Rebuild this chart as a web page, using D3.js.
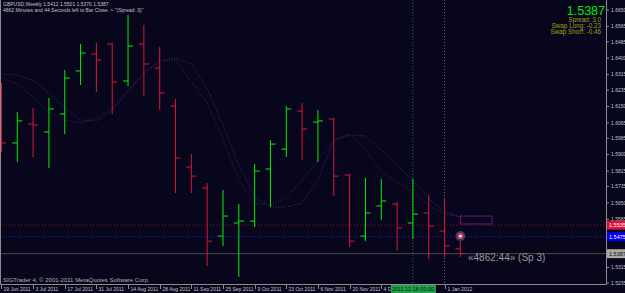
<!DOCTYPE html>
<html><head><meta charset="utf-8">
<script src="https://cdn.jsdelivr.net/npm/d3@7"></script>
<style>
html,body{margin:0;padding:0;background:#07061c;overflow:hidden}
svg{display:block}
text{font-family:'Liberation Sans',Arial,sans-serif}
</style></head><body>
<script>
// GBPUSD weekly bars, one per week
let weeks = ['2011-06-19','2011-06-26','2011-07-03','2011-07-10','2011-07-17','2011-07-24','2011-07-31','2011-08-07',
  '2011-08-14','2011-08-21','2011-08-28','2011-09-04','2011-09-11','2011-09-18','2011-09-25','2011-10-02',
  '2011-10-09','2011-10-16','2011-10-23','2011-10-30','2011-11-06','2011-11-13','2011-11-20','2011-11-27',
  '2011-12-04','2011-12-11','2011-12-18','2011-12-25','2012-01-01','2012-01-08']
let opens  = [1.6183,1.5961,1.6059,1.6018,1.6111,1.6334,1.6422,1.6474,1.6282,1.6474,1.6349,1.6152,1.5836,1.5727,1.5478,
  1.5546,1.5556,1.5826,1.5929,1.6126,1.6069,1.6085,1.5795,1.5478,1.5634,1.5644,1.5546,1.5598,1.5504,1.5412]
let highs  = [1.6272,1.6121,1.6142,1.6194,1.6339,1.6474,1.6479,1.6479,1.6624,1.6572,1.6458,1.6189,1.5904,1.5753,1.5717,
  1.5644,1.5852,1.5976,1.6152,1.6168,1.6132,1.6090,1.5800,1.5779,1.5774,1.5655,1.5774,1.5691,1.5670,1.5501]
let lows   = [1.5914,1.5862,1.5888,1.5831,1.6007,1.6261,1.6225,1.6111,1.6256,1.6204,1.6132,1.5701,1.5701,1.5323,1.5427,
  1.5266,1.5525,1.5629,1.5888,1.5872,1.5862,1.5686,1.5421,1.5452,1.5561,1.5401,1.5463,1.5359,1.5370,1.5370]
let closes = [1.5961,1.6075,1.6054,1.6137,1.6297,1.6427,1.6391,1.6277,1.6463,1.6370,1.6220,1.5883,1.5789,1.5452,1.5582,
  1.5556,1.5815,1.5955,1.6137,1.6033,1.6075,1.5789,1.5452,1.5598,1.5660,1.5520,1.5592,1.5530,1.5427,1.5387]

// two moving averages (dotted)
let maBlue = [1.6318,1.6313,1.6287,1.6220,1.6142,1.6080,1.6075,1.6132,1.6225,1.6318,1.6386,1.6401,1.6370,1.6246,1.6054,
  1.5846,1.5681,1.5629,1.5629,1.5649,1.5769,1.5976,1.6002,1.5997,1.5924,1.5846,1.5769,1.5675,1.5603,1.5577]
let maMagenta = [1.6297,1.6266,1.6199,1.6121,1.6080,1.6064,1.6090,1.6142,1.6235,1.6329,1.6386,1.6391,1.6277,1.6168,1.5976,
  1.5769,1.5649,1.5639,1.5675,1.5769,1.5872,1.5976,1.6007,1.5924,1.5810,1.5758,1.5707,1.5639,1.5592,1.5577]

// visible labels only (the ones under the price boxes are hidden in the terminal)
let priceTicks = [1.6650,1.6565,1.6485,1.6400,1.6315,1.6235,1.6150,1.6065,1.5985,1.5900,1.5815,1.5735,1.5650,1.5565,
  1.5315,1.5235]
let dateTicks = ['2011-06-19','2011-07-03','2011-07-17','2011-07-31','2011-08-14','2011-08-28','2011-09-11','2011-09-25',
  '2011-10-09','2011-10-23','2011-11-06','2011-11-20','2011-12-04','2012-01-01']

let redLevel = 1.5535, blueLevel = 1.5475, bid = 1.5387
let cursorDate = '2011-12-18', lastDate = '2012-01-01'
let box = { from: '2012-01-08', to: '2012-01-22', top: 1.5582, bottom: 1.5541 }
let marker = { date: '2012-01-08', price: 1.5478 }

const W = 625, H = 293, R = 606, B = 284
const bg = '#07061c', bull = '#00f000', bear = '#dc143c', axisCol = '#8c8c8c', txt = '#c4c4c4'

let parse = d3.utcParse('%Y-%m-%d')
let dates = weeks.map(parse)
let x = d3.scaleUtc().domain([dates[0], dates[dates.length - 1]]).range([1.43, 460.4])
let y = d3.scaleLinear().domain([1.5235, 1.6650]).range([283, 10])

const svg = d3.select('body').append('svg').attr('width', W).attr('height', H)
svg.append('rect').attr('width', W).attr('height', H).attr('fill', bg)

let defs = svg.append('defs')
defs.append('clipPath').attr('id', 'plot')
  .append('rect').attr('x', 0).attr('y', 0).attr('width', R).attr('height', B)
let plot = svg.append('g').attr('clip-path', 'url(#plot)')

// level lines
plot.append('line').attr('x1', 0).attr('x2', R).attr('y1', y(bid)).attr('y2', y(bid))
  .attr('stroke', '#4a4a4a').attr('stroke-width', 1)
plot.append('line').attr('x1', 0).attr('x2', R).attr('y1', y(redLevel)).attr('y2', y(redLevel))
  .attr('stroke', '#8a1030').attr('stroke-dasharray', '1,2')
plot.append('line').attr('x1', 0).attr('x2', R).attr('y1', y(blueLevel)).attr('y2', y(blueLevel))
  .attr('stroke', '#2222c8').attr('stroke-dasharray', '1,2')

// vertical dotted lines
plot.append('line').attr('x1', x(parse(cursorDate))).attr('x2', x(parse(cursorDate))).attr('y1', 0).attr('y2', B)
  .attr('stroke', '#2f6a2f').attr('stroke-dasharray', '1,2')
plot.append('line').attr('x1', x(parse(lastDate))).attr('x2', x(parse(lastDate))).attr('y1', 0).attr('y2', B)
  .attr('stroke', '#6a6a6a').attr('stroke-dasharray', '1,2')

// moving averages
let line = d3.line().x((d, i) => x(dates[i])).y(d => y(d))
plot.append('path').attr('d', line(maMagenta)).attr('fill', 'none')
  .attr('stroke', '#4e1e4c').attr('stroke-dasharray', '1,1.5')
plot.append('path').attr('d', line(maBlue)).attr('fill', 'none')
  .attr('stroke', '#382a86').attr('stroke-dasharray', '1,1.5')

// OHLC bars
let bars = plot.append('g').selectAll('g')
  .data(dates.map((d, i) => ({ d, o: opens[i], h: highs[i], l: lows[i], c: closes[i] })))
  .join('g')
  .attr('stroke', d => d.c >= d.o ? bull : bear)
bars.append('line').attr('x1', d => x(d.d)).attr('x2', d => x(d.d)).attr('y1', d => y(d.h)).attr('y2', d => y(d.l))
bars.append('line').attr('x1', d => x(d.d) - 5).attr('x2', d => x(d.d)).attr('y1', d => y(d.o)).attr('y2', d => y(d.o))
bars.append('line').attr('x1', d => x(d.d)).attr('x2', d => x(d.d) + 5).attr('y1', d => y(d.c)).attr('y2', d => y(d.c))

// dashed box and marker
plot.append('rect')
  .attr('x', x(parse(box.from))).attr('y', y(box.top))
  .attr('width', x(parse(box.to)) - x(parse(box.from))).attr('height', y(box.bottom) - y(box.top))
  .attr('fill', 'none').attr('stroke', '#a01ca0').attr('stroke-dasharray', '2,1')
let mx = x(parse(marker.date)), my = y(marker.price)
plot.append('circle').attr('cx', mx).attr('cy', my).attr('r', 5).attr('fill', '#3c3a4e')
plot.append('circle').attr('cx', mx).attr('cy', my).attr('r', 3).attr('fill', '#e0407a')
plot.append('circle').attr('cx', mx).attr('cy', my).attr('r', 1.2).attr('fill', '#ffffff')

// frame
svg.append('path').attr('d', `M0.5,0V${B + 0.5}H${R + 0.5}V0`).attr('fill', 'none').attr('stroke', axisCol)

// price axis
let pt = svg.append('g').selectAll('g').data(priceTicks).join('g')
  .attr('transform', d => `translate(${R},${y(d)})`)
pt.append('line').attr('x1', 0).attr('x2', 3).attr('stroke', axisCol)
pt.append('text').attr('x', 5).attr('dy', '0.35em').attr('fill', txt).style('font-size', '5px')
  .text(d => d.toFixed(4))

function priceBox(v, fill, color) {
  svg.append('rect').attr('x', R + 1).attr('y', y(v) - 4.5).attr('width', W - R - 1).attr('height', 9).attr('fill', fill)
  svg.append('text').attr('x', R + 3).attr('y', y(v)).attr('dy', '0.35em').attr('fill', color)
    .style('font-size', '5.5px').text(v.toFixed(4))
}
priceBox(redLevel, '#dc143c', '#ffffff')
priceBox(blueLevel, '#0000f0', '#ffffff')
priceBox(bid, '#a8a8a8', '#101010')

// date axis; labels are cut where the cursor date box sits
let cx = x(parse(cursorDate))
let dclip = defs.append('clipPath').attr('id', 'dates')
dclip.append('rect').attr('x', 0).attr('y', B).attr('width', cx - 22).attr('height', H - B)
dclip.append('rect').attr('x', cx + 23).attr('y', B).attr('width', W - cx - 23).attr('height', H - B)

let fmt = d3.utcFormat('%-d %b %Y')
let tickDates = dateTicks.map(parse)
svg.append('g').selectAll('line').data(tickDates).join('line')
  .attr('x1', d => Math.round(x(d)) + 0.5).attr('x2', d => Math.round(x(d)) + 0.5)
  .attr('y1', B).attr('y2', B + 5).attr('stroke', axisCol)
svg.append('g').attr('clip-path', 'url(#dates)')
  .selectAll('text').data(tickDates).join('text')
  .attr('x', d => Math.round(x(d)) + 2.5).attr('y', B + 7).attr('fill', txt).style('font-size', '5px')
  .text(d => fmt(d))

svg.append('rect').attr('x', cx - 22).attr('y', B + 1).attr('width', 45).attr('height', 8).attr('fill', '#22a04c')
svg.append('text').attr('x', cx).attr('y', B + 7).attr('text-anchor', 'middle').attr('fill', '#062a10')
  .style('font-size', '5.5px').text(d3.utcFormat('%Y.%m.%d %H:%M')(parse(cursorDate)))

// header texts
svg.append('text').attr('x', 3).attr('y', 6).attr('fill', txt).style('font-size', '5px')
  .text(`GBPUSD,Weekly  ${opens[29].toFixed(4)} ${highs[29].toFixed(4)} ${lows[29].toFixed(4)} ${closes[29].toFixed(4)}`)
svg.append('text').attr('x', 3).attr('y', 12).attr('fill', txt).style('font-size', '5px')
  .text("4862 Minutes and 44 Seconds left to Bar Close. > ''(Spread: 3)''")

svg.append('text').attr('x', 605).attr('y', 14.5).attr('text-anchor', 'end').attr('fill', '#00ee00')
  .style('font-size', '12.5px').text(bid.toFixed(4))
let info = ['Spread: 3.0', 'Swap Long: -0.23', 'Swap Short: -0.46']
svg.append('g').selectAll('text').data(info).join('text')
  .attr('x', 601).attr('y', (d, i) => 22 + i * 6.2).attr('text-anchor', 'end').attr('fill', '#a0a010')
  .style('font-size', '6.3px').text(d => d)

svg.append('text').attr('x', 468).attr('y', 261).attr('fill', '#9a9a9a').style('font-size', '10px')
  .text('«4862:44» (Sp 3)')
svg.append('text').attr('x', 3).attr('y', 282).attr('fill', '#b0b0b0').style('font-size', '6px')
  .text('SIGTrader 4, © 2001-2011 MetaQuotes Software Corp.')
</script>
</body></html>
